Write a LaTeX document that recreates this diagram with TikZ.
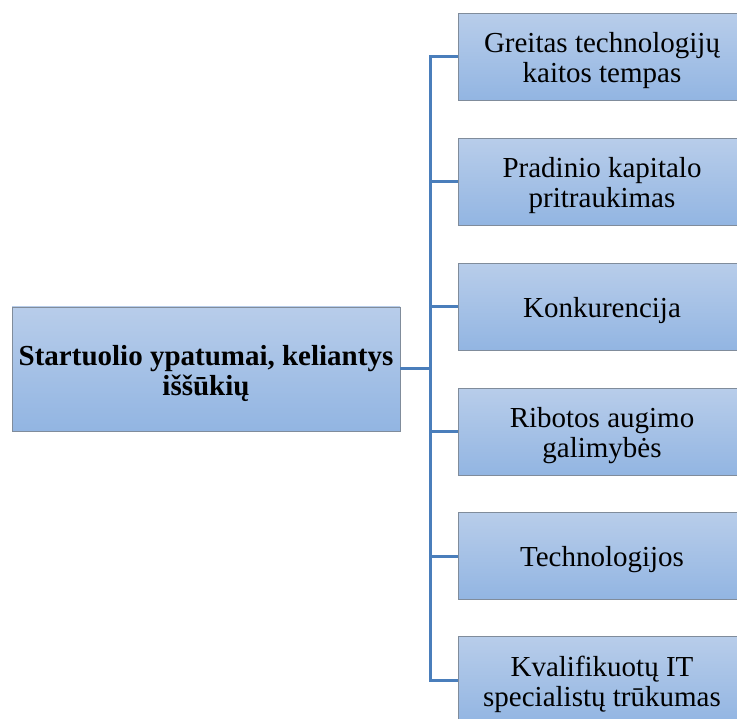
\documentclass[tikz,border=0pt]{standalone}
\usepackage{fontspec}
\setmainfont{Liberation Serif}
\begin{document}
\begin{tikzpicture}[x=1pt,y=-1pt,
  box/.style={draw={rgb,255:red,128;green,140;blue,155}, line width=0.8pt,
    top color={rgb,255:red,184;green,205;blue,234},
    bottom color={rgb,255:red,146;green,181;blue,226},
    inner sep=0pt},
  item/.style={box, minimum width=288pt, minimum height=87pt},
  txt/.style={align=center, inner sep=0pt, font=\fontsize{29}{30}\selectfont},
  link/.style={draw={rgb,255:red,74;green,126;blue,187}, line width=3pt}]
\useasboundingbox (0,0) rectangle (737,719);
\clip (0,0) rectangle (737,719);
% central box
\node[box, minimum width=388pt, minimum height=124pt] (root) at (206,369) {};
\node[txt, font=\fontsize{29}{30}\selectfont\bfseries] (roottxt)
  at ([yshift=-4pt]root.center) {Startuolio ypatumai, keliantys\\ iššūkių};
% branch boxes
\foreach \n/\y/\t in {a/57/{Greitas technologijų\\ kaitos tempas},
                      b/182/{Pradinio kapitalo\\ pritraukimas},
                      c/307/{Konkurencija},
                      d/432/{Ribotos augimo\\ galimybės},
                      e/556/{Technologijos},
                      f/680/{Kvalifikuotų IT\\ specialistų trūkumas}} {
  \node[item] (\n) at (602,\y) {};
  \node[txt] (\n txt) at ([yshift=-4pt]\n.center) {\t};
}
% connectors
\coordinate (hub) at (430,369);
\draw[link] (root.east) -- (hub);
\foreach \n in {a,b,c,d,e,f}
  \draw[link] (hub) |- (\n.west);
\end{tikzpicture}
\end{document}
